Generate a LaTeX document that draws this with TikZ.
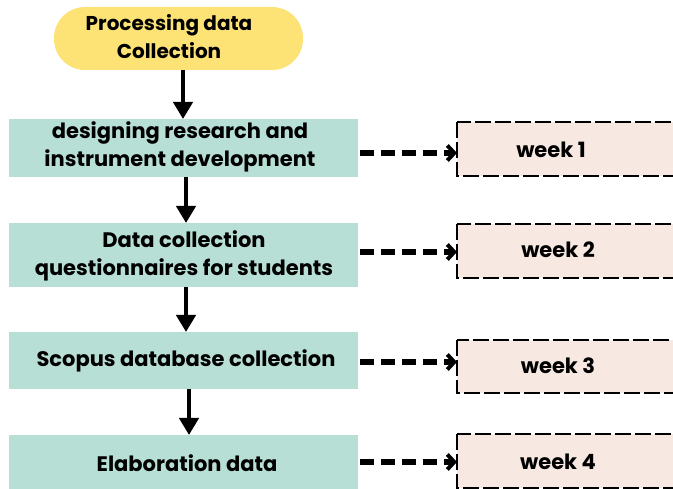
\documentclass[tikz,border=0pt]{standalone}
\usepackage{fontspec}
\setmainfont{Poppins}[BoldFont={* Bold}]
\usetikzlibrary{arrows.meta}
\definecolor{pill}{HTML}{FDE276}
\definecolor{teal}{HTML}{B8DFD6}
\definecolor{pinkbg}{HTML}{F7E8E1}
\tikzset{
  x=1pt, y=-1pt,
  txt/.style={font=\fontsize{21}{28.5}\selectfont\bfseries, align=center, inner sep=0pt},
  ptxt/.style={font=\fontsize{20}{28}\selectfont\bfseries, align=center, inner sep=0pt},
  stepbox/.style={fill=teal, draw=none},
  weekbox/.style={fill=pinkbg, draw=black, line width=2.5pt, dash pattern=on 16pt off 4pt},
  flow/.style={line width=4.5pt, -{Triangle[length=17pt,width=19pt]}},
  dflow/.style={line width=5.5pt, dash pattern=on 14pt off 7pt, -{Straight Barb[length=7pt,width=15pt,line width=4pt]}}
}
\begin{document}
\begin{tikzpicture}
\useasboundingbox (0,0) rectangle (673,489);
\clip (0,0) rectangle (673,489);
% pill
\fill[pill, rounded corners=31pt] (54,7) rectangle (303,70);
\node[ptxt] (p) at (169,37) {Processing data\\Collection};
% step boxes
\fill[stepbox] (9,119) rectangle (358,177);
\node[txt] (b1) at (180,147) {designing research and\\instrument development};
\fill[stepbox] (9,223) rectangle (358,287);
\node[txt] (b2) at (184,256) {Data collection\\questionnaires for students};
\fill[stepbox] (9,332) rectangle (358,389);
\node[txt] (b3) at (186,361) {Scopus database collection};
\fill[stepbox] (9,435) rectangle (358,495);
\node[txt] (b4) at (187,463) {Elaboration data};
% week boxes
\draw[weekbox] (457,122) rectangle (690,176);
\node[txt] (w1) at (551,150) {week 1};
\draw[weekbox] (457,224) rectangle (690,278);
\node[txt] (w2) at (558,250) {week 2};
\draw[weekbox] (457,340) rectangle (690,393);
\node[txt] (w3) at (558,366) {week 3};
\draw[weekbox] (457,434) rectangle (690,488);
\node[txt] (w4) at (558,462) {week 4};
% vertical arrows
\coordinate (a1s) at (183,70);  \coordinate (a1e) at (183,119);
\coordinate (a2s) at (186,177); \coordinate (a2e) at (186,223);
\coordinate (a3s) at (186,287); \coordinate (a3e) at (186,332);
\coordinate (a4s) at (189,389); \coordinate (a4e) at (189,435);
\draw[flow] (a1s) -- (a1e);
\draw[flow] (a2s) -- (a2e);
\draw[flow] (a3s) -- (a3e);
\draw[flow] (a4s) -- (a4e);
% dashed arrows
\coordinate (d1s) at (360,153); \coordinate (d1e) at (457,153);
\coordinate (d2s) at (360,252); \coordinate (d2e) at (457,252);
\coordinate (d3s) at (360,362); \coordinate (d3e) at (457,362);
\coordinate (d4s) at (360,462); \coordinate (d4e) at (457,462);
\draw[dflow] (d1s) -- (d1e);
\draw[dflow] (d2s) -- (d2e);
\draw[dflow] (d3s) -- (d3e);
\draw[dflow] (d4s) -- (d4e);
\end{tikzpicture}
\end{document}
